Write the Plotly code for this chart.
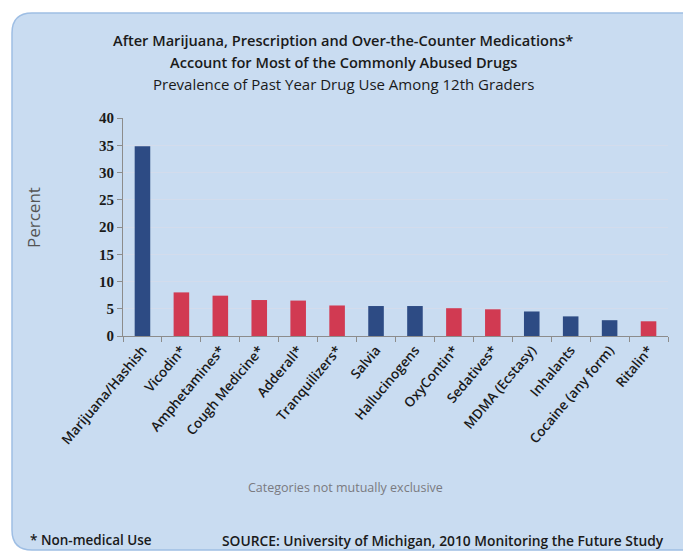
import plotly.graph_objects as go

categories = ["Marijuana/Hashish", "Vicodin*", "Amphetamines*", "Cough Medicine*", "Adderall*",
              "Tranquilizers*", "Salvia", "Hallucinogens", "OxyContin*", "Sedatives*",
              "MDMA (Ecstasy)", "Inhalants", "Cocaine (any form)", "Ritalin*"]
values = [34.8, 8.0, 7.4, 6.6, 6.5, 5.6, 5.5, 5.5, 5.1, 4.9, 4.5, 3.6, 2.9, 2.7]
nonmedical = [False, True, True, True, True, True, False, False, True, True, False, False, False, True]
y_ticks = [0, 5, 10, 15, 20, 25, 30, 35, 40]

BLUE = "#2D4B84"
RED = "#D13A52"
colors = [RED if n else BLUE for n in nonmedical]

W, H = 683, 554
L, R, T, B = 123, 15, 118, 218
pw, ph = W - L - R, H - T - B

def px(x):
    return (x - L) / pw

def py(y):
    return (H - B - y) / ph

fig = go.Figure(go.Bar(x=categories, y=values, marker=dict(color=colors, line=dict(width=0)),
                       hoverinfo="x+y"))

# rounded background panel
x0, y0, x1, y1, rad = 12, 13, 690, 550, 20
path = (f"M {px(x0+rad)},{py(y0)} L {px(x1)},{py(y0)} L {px(x1)},{py(y1)} "
        f"L {px(x0+rad)},{py(y1)} Q {px(x0)},{py(y1)} {px(x0)},{py(y1-rad)} "
        f"L {px(x0)},{py(y0+rad)} Q {px(x0)},{py(y0)} {px(x0+rad)},{py(y0)} Z")
fig.add_shape(type="path", path=path, xref="paper", yref="paper", layer="below",
              fillcolor="#C9DCF1", line=dict(color="#9EBEE4", width=1.5))

font_main = "Open Sans"
titles = [
    ("After Marijuana, Prescription and Over-the-Counter Medications*", 40, 600, 14.6),
    ("Account for Most of the Commonly Abused Drugs", 62, 600, 14.6),
    ("Prevalence of Past Year Drug Use Among 12th Graders", 84, 400, 15),
]
for txt, y, w, s in titles:
    fig.add_annotation(text=txt, x=px(343), y=py(y), xref="paper", yref="paper",
                       showarrow=False, xanchor="center", yanchor="middle",
                       font=dict(family=font_main, size=s, color="#1A1A1A", weight=w))

fig.add_annotation(text="Percent", x=px(33), y=py(218), xref="paper", yref="paper",
                   showarrow=False, textangle=-90, xanchor="center", yanchor="middle",
                   font=dict(family=font_main, size=17, color="#555555"))
fig.add_annotation(text="Categories not mutually exclusive", x=px(345), y=py(487),
                   xref="paper", yref="paper", showarrow=False, xanchor="center", yanchor="middle",
                   font=dict(family=font_main, size=12.5, color="#7A7A80"))
fig.add_annotation(text="* Non-medical Use", x=px(28), y=py(540), xref="paper", yref="paper",
                   showarrow=False, xanchor="left", yanchor="middle",
                   font=dict(family=font_main, size=13.5, color="#1A1A1A", weight=600))
fig.add_annotation(text="SOURCE: University of Michigan, 2010 Monitoring the Future Study",
                   x=px(666), y=py(540), xref="paper", yref="paper",
                   showarrow=False, xanchor="right", yanchor="middle",
                   font=dict(family=font_main, size=13.8, color="#1A1A1A", weight=600))

fig.update_layout(
    width=W, height=H,
    margin=dict(l=L, r=R, t=T, b=B, autoexpand=False),
    paper_bgcolor="white", plot_bgcolor="white",
    bargap=0.6, showlegend=False,
    xaxis=dict(tickangle=-50, tickfont=dict(family=font_main, size=13.5, color="#1A1A1A", weight=600),
               showline=True, linecolor="#8C8C8C", linewidth=1,
               ticks="outside", tickson="boundaries", ticklen=5, tickcolor="#8C8C8C",
               showgrid=False, automargin=False),
    yaxis=dict(range=[0, 40], tickvals=y_ticks, ticktext=[str(v) for v in y_ticks],
               tickfont=dict(family="Liberation Serif", size=15, color="#1A1A1A", weight=700),
               showline=True, linecolor="#8C8C8C", linewidth=1,
               ticks="outside", ticklen=5, tickcolor="#8C8C8C",
               gridcolor="#D3DCEC", gridwidth=1, zeroline=False, automargin=False),
)

fig.write_html("out.html", config={"displayModeBar": False},
               post_script="document.body.style.margin='0';document.body.style.padding='0';")
